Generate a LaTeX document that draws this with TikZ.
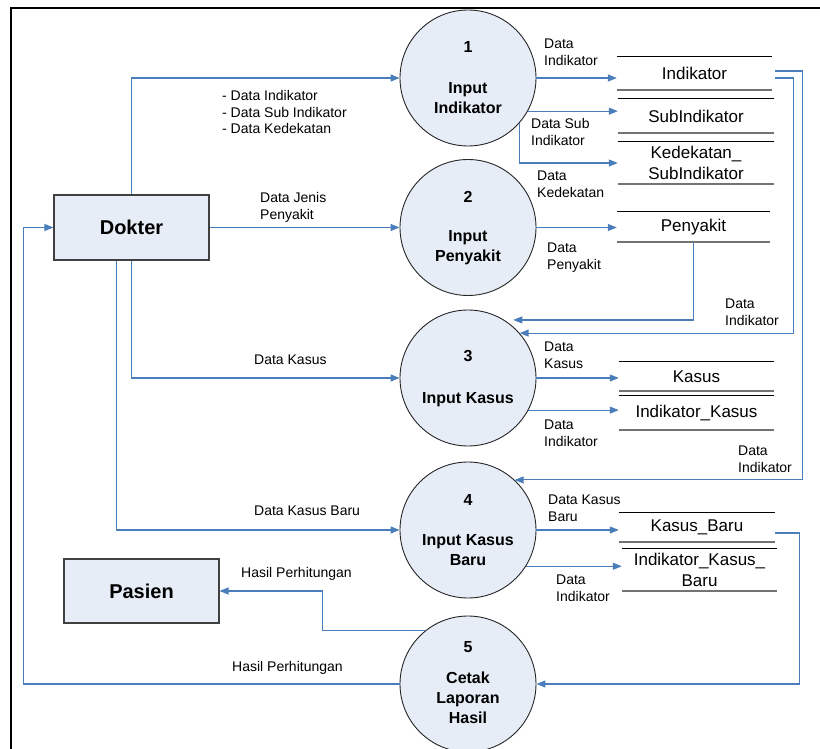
\documentclass[tikz,border=0pt]{standalone}
\usepackage{fontspec}
\setmainfont{Liberation Sans}
\usetikzlibrary{arrows.meta,calc}

\definecolor{flowblue}{RGB}{74,126,187}
\definecolor{shapefill}{RGB}{230,237,247}

\tikzset{
  flow/.style={draw=flowblue, line width=1.1pt, -{Triangle[length=9pt,width=7pt]}},
  process/.style={circle, draw=black!85, line width=0.9pt, fill=shapefill, minimum size=136pt, inner sep=0pt},
  entity/.style={rectangle, draw=black!75, line width=1.1pt, fill=shapefill, inner sep=0pt,
    font=\fontsize{20}{24}\selectfont\bfseries},
  ptitle/.style={inner sep=0pt, align=center, font=\fontsize{16}{20}\selectfont\bfseries},
  store/.style={rectangle, inner sep=0pt, align=center, font=\fontsize{17}{20.5}\selectfont},
  stTop/.style={draw=black, line width=0.9pt},
  stBot/.style={draw=black!55, line width=1.6pt},
  lbl/.style={inner sep=0pt, anchor=north west, align=left, font=\fontsize{14}{16.7}\selectfont},
}

\begin{document}
\begin{tikzpicture}[x=1pt, y=-1pt]
\useasboundingbox (0,0) rectangle (820,749);

% page frame
\draw[line width=2.2pt, line cap=rect] (11,749) -- (11,8) -- (821,8);

% external entities
\node[entity, minimum width=155pt, minimum height=65pt] (dok) at (131.5,227.5) {Dokter};
\node[entity, minimum width=155pt, minimum height=64pt] (pas) at (141.5,591) {Pasien};

% processes
\node[process] (p1) at (468,78) {};
\node[process] (p2) at (468,227.5) {};
\node[process] (p3) at (468,378) {};
\node[process] (p4) at (468,530) {};
\node[process] (p5) at (468,684) {};

\node[ptitle] (n1) at (468,47) {1};
\node[ptitle, anchor=north] (t1) at (468,82.5) {Input\\Indikator};
\node[ptitle] (n2) at (468,196.5) {2};
\node[ptitle, anchor=north] (t2) at (468,230.5) {Input\\Penyakit};
\node[ptitle] (n3) at (468,356.5) {3};
\node[ptitle, anchor=north] (t3) at (468,392) {Input Kasus};
\node[ptitle] (n4) at (468,499.5) {4};
\node[ptitle, anchor=north] (t4) at (468,534) {Input Kasus\\Baru};
\node[ptitle] (n5) at (468,647) {5};
\node[ptitle, anchor=north] (t5) at (468,672) {Cetak\\Laporan\\Hasil};

% data stores
\node[store, minimum width=155pt, minimum height=33pt] (st1) at (694.5,73.5) {Indikator};
\node[store, minimum width=156pt, minimum height=34pt] (st2) at (696,116) {SubIndikator};
\node[store, minimum width=156pt, minimum height=42pt] (st3) at (696,163) {Kedekatan\_\\SubIndikator};
\node[store, minimum width=153pt, minimum height=30pt] (st4) at (693.5,227) {Penyakit};
\node[store, minimum width=155pt, minimum height=29pt] (st5) at (696.5,376.5) {Kasus};
\node[store, minimum width=155pt, minimum height=34pt] (st6) at (696.5,413) {Indikator\_Kasus};
\node[store, minimum width=156pt, minimum height=29pt] (st7) at (697,527.5) {Kasus\_Baru};
\node[store, minimum width=155pt, minimum height=42pt] (st8) at (699.5,570) {Indikator\_Kasus\_\\Baru};

\foreach \s in {st1,st2,st3,st4,st5,st6,st7,st8}{
  \draw[stTop] (\s.north west) -- (\s.north east);
  \draw[stBot] (\s.south west) -- (\s.south east);
}

% flows from Dokter
\draw[flow] (dok.north) |- (p1.west);
\draw[flow] (dok.east) -- (p2.west);
\draw[flow] (dok.south) |- (p3.west);
\draw[flow] ([xshift=-15pt]dok.south) |- (p4.west);

% results back to the entities
\draw[flow] (p5.west) -| ([xshift=-30pt]dok.west) -- (dok.west);
\draw[flow] (p5.128.8) -| ([xshift=103pt]pas.east) -- (pas.east);

% process to store
\draw[flow] (p1.east) -- (p1.east -| st1.west);
\draw[flow] (p1.-29) -- (p1.-29 -| st2.west);
\draw[flow] (p1.-41.4) |- (st3.west);
\draw[flow] (p2.east) -- (p2.east -| st4.west);
\draw[flow] (p3.east) -- (p3.east -| st5.west);
\draw[flow] (p3.-28) -- (p3.-28 -| st6.west);
\draw[flow] (p4.east) -- (p4.east -| st7.west);
\draw[flow] (p4.-32) -- (p4.-32 -| st8.west);

% store to process
\draw[flow, shorten >=9pt] (st4.south) |- (p3.58.5);
\draw[flow] ([shift={(3,4.5)}]st1.east) -- ++(18,0) |- (p3.41.4);
\draw[flow] ([shift={(3,-2.5)}]st1.east) -- ++(27,0) |- (p4.47.3);
\draw[flow] ([shift={(0,5.5)}]st7.east) -- ++(24,0) |- (p5.east);

% flow labels
\node[lbl] (l1) at (222,90) {- Data Indikator\\- Data Sub Indikator\\- Data Kedekatan};
\node[lbl] (l2) at (260,192) {Data Jenis\\Penyakit};
\node[lbl] (l3) at (254,355) {Data Kasus};
\node[lbl] (l4) at (254,506) {Data Kasus Baru};
\node[lbl] (l5) at (241,567) {Hasil Perhitungan};
\node[lbl] (l6) at (232,661) {Hasil Perhitungan};
\node[lbl] (l7) at (544,39) {Data\\Indikator};
\node[lbl] (l8) at (531,118) {Data Sub\\Indikator};
\node[lbl] (l9) at (537,171) {Data\\Kedekatan};
\node[lbl] (l10) at (547,243) {Data\\Penyakit};
\node[lbl] (l11) at (725,299) {Data\\Indikator};
\node[lbl] (l12) at (544,342) {Data\\Kasus};
\node[lbl] (l13) at (544,420) {Data\\Indikator};
\node[lbl] (l14) at (738,446) {Data\\Indikator};
\node[lbl] (l15) at (548,495) {Data Kasus\\Baru};
\node[lbl] (l16) at (556,575) {Data\\Indikator};
\end{tikzpicture}
\end{document}
